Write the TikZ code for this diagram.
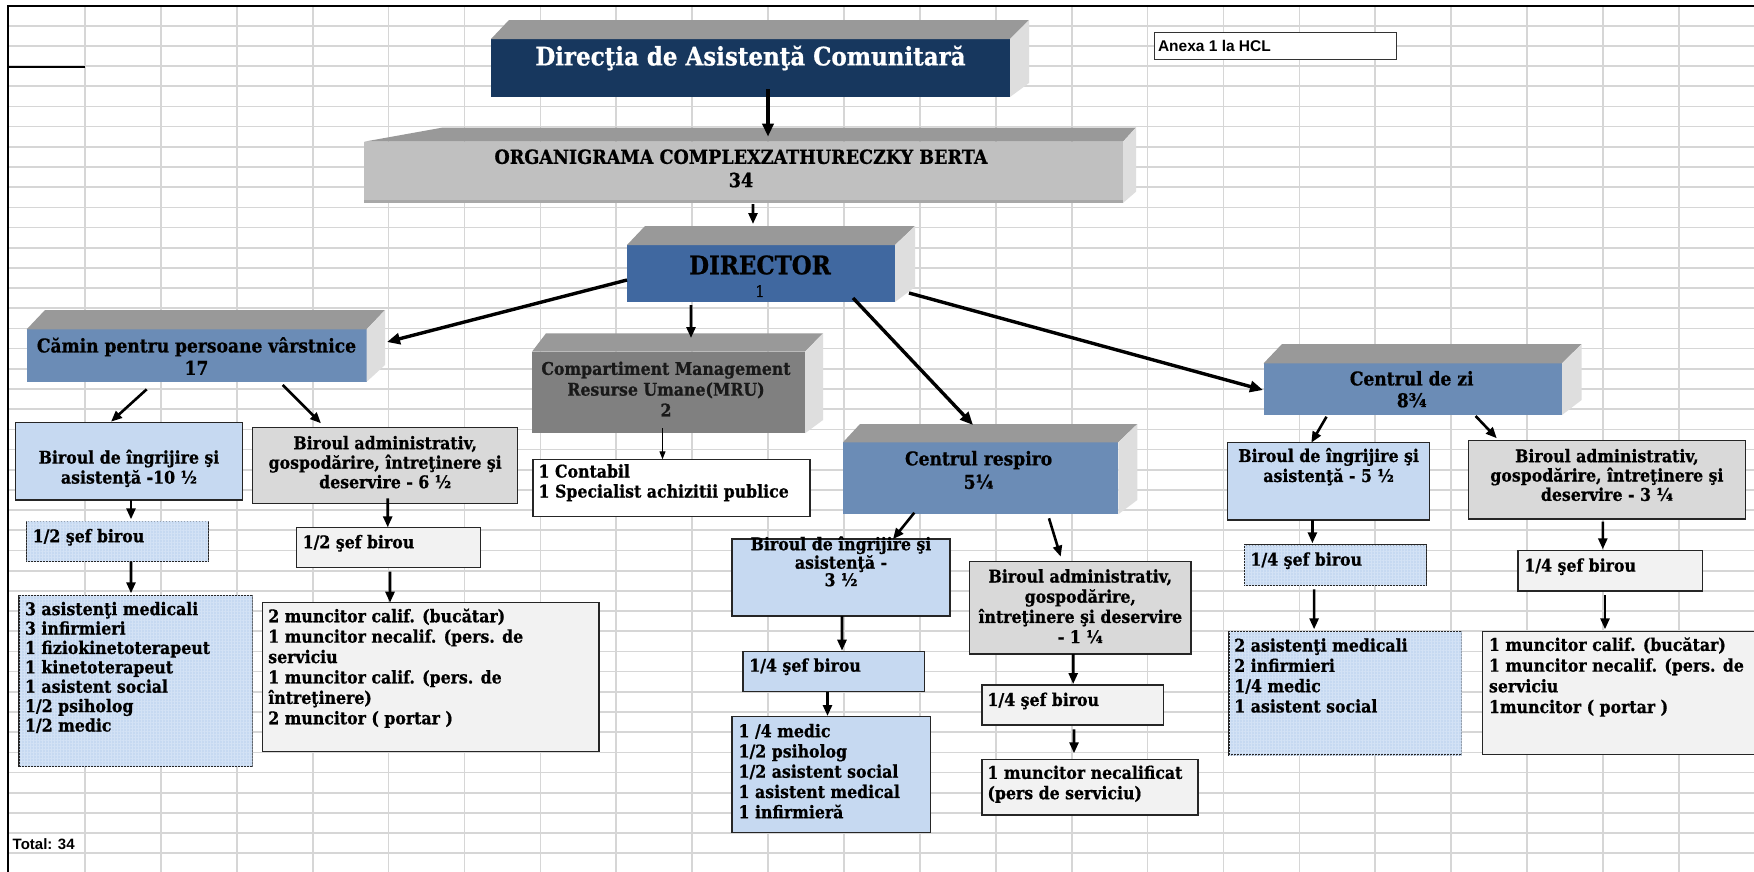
\documentclass[tikz,border=0pt]{standalone}
\usepackage{fontspec}
\newfontfamily\bk[FakeStretch=0.9,FakeBold=0.8]{DejaVu Serif}
\newfontfamily\arl{Liberation Sans}
\usetikzlibrary{arrows.meta,patterns.meta,fit,calc}
\definecolor{navy}{HTML}{17375E}
\definecolor{dirblue}{HTML}{4068A0}
\definecolor{steel}{HTML}{6B8CB6}
\definecolor{mrugray}{HTML}{808080}
\definecolor{orggray}{HTML}{C0C0C0}
\definecolor{topgray}{HTML}{999999}
\definecolor{sidegray}{HTML}{DEDEDE}
\definecolor{lblue}{HTML}{C6D9F1}
\definecolor{pattc}{HTML}{D3E2F5}
\definecolor{mgray}{HTML}{D9D9D9}
\definecolor{pgray}{HTML}{F2F2F2}
\definecolor{gridc}{HTML}{D6D6D6}
\definecolor{orgstrip}{HTML}{A8A8A8}
\newcommand\bfs[2]{\bk\bfseries\fontsize{#1bp}{#2bp}\selectfont}
\newcommand\tdbox[7]{%
  \node[tdf,fill=#2,fit={(#3) (#4)}] (#1) {};
  \fill[topgray] (#1.north west) -- (#5) -- (#6) -- (#1.north east) -- cycle;
  \fill[sidegray] (#1.north east) -- (#6) -- (#7) -- (#1.south east) -- cycle;
}
\begin{document}
\begin{tikzpicture}[x=1bp,y=-1bp,
  gridline/.style={draw=gridc,line width=1.7bp},
  frameline/.style={draw=black,line width=2.2bp},
  tdf/.style={inner sep=0pt,outer sep=0pt},
  bx/.style={draw=black!85,line width=1.3bp,inner sep=0pt,outer sep=0pt},
  patt/.style={postaction={pattern={Lines[angle=0,distance=3bp,line width=0.5bp]},pattern color=pattc},
               postaction={pattern={Lines[angle=90,distance=3bp,line width=0.5bp]},pattern color=pattc}},
  tx/.style={inner sep=0pt,outer sep=0pt,text=black},
  tl/.style={tx,align=left,anchor=west},
  tc/.style={tx,align=center,anchor=center},
  arr/.style={line width=2.6bp,-{Triangle[length=11bp,width=9bp]}},
  arrb/.style={line width=3.4bp,-{Triangle[length=13bp,width=11bp]}},
  arrt/.style={line width=1bp,-{Triangle[length=8bp,width=6bp]}}
]
\useasboundingbox (0,0) rectangle (1754,872);
\fill[white] (0,0) rectangle (1754,872);
% spreadsheet grid
\foreach \k in {0,...,21} \draw[gridline] ({85+75.9*\k},6) -- ({85+75.9*\k},872);
\foreach \k in {1,...,42} \draw[gridline] (8,{5.5+20.185*\k}) -- (1754,{5.5+20.185*\k});
\draw[frameline] (8,872) -- (8,6) -- (1754,6);
\draw[frameline] (8,67) -- (85,67);

% 3D boxes
\tdbox{D1}{navy}{491,39}{1010,97}{509,20}{1029,20}{1029,83}
\tdbox{D2}{orggray}{364,141.7}{1123,203}{443,127.5}{1136,127.5}{1136,191.7}
\fill[orgstrip] (D2.south west) rectangle ($(D2.south east)+(0,-3)$);
\tdbox{D3}{dirblue}{627,245}{895,302}{645,226}{915,226}{915,287}
\tdbox{D4}{steel}{26.7,329.3}{366.7,381.7}{45,310}{385,310}{385,365}
\tdbox{D5}{mrugray}{532,351.7}{805,433.3}{546,333.3}{823,333.3}{823,420}
\tdbox{D6}{steel}{843,442.3}{1118.3,514.3}{860,424}{1137.3,424}{1137.3,500}
\tdbox{D7}{steel}{1263.6,363.3}{1562,415}{1282,344}{1581.6,344}{1581.6,400}

\node[tc,text=white,font=\bfs{25.5}{27}] (D1t) at (750.5,58) {Direcţia de Asistenţă Comunitară};
\node[tc,font=\bfs{19.5}{23.3}] (D2t) at (741,168.4) {ORGANIGRAMA COMPLEXZATHURECZKY BERTA\\34};
\node[tc,font=\bfs{25.5}{27}] (D3t) at (760,265) {DIRECTOR};
\node[tc,font=\bk\fontsize{16bp}{18bp}\selectfont] (D3n) at (760,291) {1};
\node[tc,font=\bfs{19}{22.3}] (D4t) at (196.5,356) {Cămin pentru persoane vârstnice\\17};
\node[tc,text=black!90,font=\bfs{17.5}{20.8}] (D5t) at (666,389) {Compartiment Management\\Resurse Umane(MRU)\\2};
\node[tc,font=\bfs{19}{23.4}] (D6t) at (978.6,470) {Centrul respiro\\5¼};
\node[tc,font=\bfs{19}{21.7}] (D7t) at (1411.7,389.2) {Centrul de zi\\8¾};

% Camin branch
\node[bx,fill=lblue,fit={(15.7,422.7) (242.3,500)}] (B1) {};
\node[tc,font=\bfs{17.5}{20}] (B1t) at (129,468.3) {Biroul de îngrijire şi\\asistenţă -10 ½};
\node[bx,fill=mgray,fit={(252.7,427.7) (517.7,503.3)}] (B2) {};
\node[tc,font=\bfs{17.5}{19.5}] (B2t) at (385.2,462.2) {Biroul administrativ,\\gospodărire, întreţinere şi\\deservire - 6 ½};
\node[bx,fill=lblue,patt,fit={(26.7,521.7) (208.3,561.7)}] (B3) {};
\node[tl,font=\bfs{17.5}{20}] (B3t) at (32.7,537.3) {1/2 şef birou};
\node[bx,fill=pgray,fit={(296.7,527.3) (480.7,567.3)}] (B4) {};
\node[tl,font=\bfs{17.5}{20}] (B4t) at (302.7,543.3) {1/2 şef birou};
\node[bx,fill=lblue,patt,fit={(19,595.7) (252.3,766.7)}] (B5) {};
\node[tl,font=\bfs{17.5}{19.4}] (B5t) at (25,667.5) {3 asistenţi medicali\\3 infirmieri\\1 fiziokinetoterapeut\\1 kinetoterapeut\\1 asistent social\\1/2 psiholog\\1/2 medic};
\node[bx,fill=pgray,fit={(262.3,602.7) (599,751.7)}] (B6) {};
\node[tl,font=\bfs{17.5}{20.4}] (B6t) at (268.3,668.3) {2 muncitor calif. (bucătar)\\1 muncitor necalif. (pers. de\\serviciu\\1 muncitor calif. (pers. de\\întreţinere)\\2 muncitor ( portar )};

% MRU
\node[bx,fill=white,fit={(533,459.3) (810,516.7)}] (B7) {};
\node[tl,font=\bfs{17.5}{20}] (B7t) at (538.6,482.7) {1 Contabil\\1 Specialist achizitii publice};

% Centrul respiro branch
\node[bx,fill=lblue,fit={(732,539) (950,616)}] (B8) {};
\node[tc,font=\bfs{17.5}{14.7}] (B8t) at (841,561.3) {Biroul de îngrijire şi\\asistenţă -\\3 ½};
\node[bx,fill=mgray,fit={(969.6,561.7) (1191,654)}] (B9) {};
\node[tc,font=\bfs{17.5}{20.2}] (B9t) at (1080.3,606.3) {Biroul administrativ,\\gospodărire,\\întreţinere şi deservire\\- 1 ¼};
\node[bx,fill=lblue,fit={(742.9,651.7) (924.3,691.7)}] (B10) {};
\node[tl,font=\bfs{17.5}{20}] (B10t) at (749.3,666.7) {1/4 şef birou};
\node[bx,fill=pgray,fit={(982,685) (1163.6,725)}] (B11) {};
\node[tl,font=\bfs{17.5}{20}] (B11t) at (987.5,701) {1/4 şef birou};
\node[bx,fill=lblue,fit={(732,716.7) (930.4,832.7)}] (B12) {};
\node[tl,font=\bfs{17.5}{20.25}] (B12t) at (738.6,771.2) {1 /4 medic\\1/2 psiholog\\1/2 asistent social\\1 asistent medical\\1 infirmieră};
\node[bx,fill=pgray,fit={(982,759.3) (1198,815)}] (B13) {};
\node[tl,font=\bfs{17.5}{20.3}] (B13t) at (987.5,784.2) {1 muncitor necalificat\\(pers de serviciu)};

% Centrul de zi branch
\node[bx,fill=lblue,fit={(1227.6,442.7) (1429.7,520)}] (B14) {};
\node[tc,font=\bfs{17.5}{20}] (B14t) at (1328.6,466.7) {Biroul de îngrijire şi\\asistenţă - 5 ½};
\node[bx,fill=mgray,fit={(1468.6,440.7) (1745.2,519)}] (B15) {};
\node[tc,font=\bfs{17.5}{19.3}] (B15t) at (1606.9,475) {Biroul administrativ,\\gospodărire, întreţinere şi\\deservire - 3 ¼};
\node[bx,fill=lblue,patt,fit={(1244.2,545) (1426.1,585.7)}] (B16) {};
\node[tl,font=\bfs{17.5}{20}] (B16t) at (1250.5,560.7) {1/4 şef birou};
\node[bx,fill=pgray,fit={(1518,550.7) (1702.5,591)}] (B17) {};
\node[tl,font=\bfs{17.5}{20}] (B17t) at (1524.4,566.7) {1/4 şef birou};
\node[bx,fill=lblue,patt,fit={(1229,631.7) (1461.5,755)}] (B18) {};
\node[tl,font=\bfs{17.5}{20.3}] (B18t) at (1234.3,675.5) {2 asistenţi medicali\\2 infirmieri\\1/4 medic\\1 asistent social};
\node[bx,fill=pgray,fit={(1482.7,631.7) (1760,754.3)}] (B19) {};
\node[tl,font=\bfs{17.5}{20.7}] (B19t) at (1489,677) {1 muncitor calif. (bucătar)\\1 muncitor necalif. (pers. de\\serviciu\\1muncitor ( portar )};

% annex and total
\node[draw=black!80,line width=1bp,fill=white,inner sep=0pt,outer sep=0pt,fit={(1154,32.7) (1396,59)}] (AX) {};
\node[tl,font=\arl\bfseries\fontsize{15.5bp}{17bp}\selectfont] (AXt) at (1158,46) {Anexa 1 la HCL};
\node[tl,font=\arl\bfseries\fontsize{15bp}{17bp}\selectfont] (TOT) at (12.7,844) {Total: 34};

% connectors
\draw[arrb] ($(D1.south)+(17.5,-7.7)$) -- ($(D2.north)+(24.5,-5)$);
\draw[arr] ($(D2.south)+(9.5,1)$) -- ($(D3.north)+(-8,-21)$);
\draw[arrb] ($(D3.west)+(0,6.5)$) -- ($(D4.east)+(20.3,-13.5)$);
\draw[arr] ($(D3.south)+(-70,3)$) -- ($(D5.north)+(22.5,-13.7)$);
\draw[arrb] ($(D3.south)+(92,-4)$) -- ($(D6.north)+(-7.65,-17.3)$);
\draw[arrb] ($(D3.east)+(14,19.5)$) -- ($(D7.west)+(-0.6,0.85)$);
\draw[arr] ($(D4.south)+(-50,7.6)$) -- ($(B1.north)+(-18,-1)$);
\draw[arr] ($(D4.south)+(86,3.3)$) -- ($(B2.north)+(-64.2,-4.4)$);
\draw[arr] ($(B1.south)+(2,0)$) -- ($(B3.north)+(13.5,-2.4)$);
\draw[arr] ($(B2.south)+(2.5,-5)$) -- ($(B4.north)+(-1,0)$);
\draw[arr] ($(B3.south)+(13.5,0)$) -- ($(B5.north)+(-4.65,-2.4)$);
\draw[arr] ($(B4.south)+(1.3,4.4)$) -- ($(B6.north)+(-40.65,0)$);
\draw[arrt] ($(D5.south)+(-6,-5.3)$) -- ($(B7.north)+(-9,0)$);
\draw[arr] ($(D6.south)+(-66.35,-1.6)$) -- ($(B8.north)+(51.9,0.3)$);
\draw[arr] ($(D6.south)+(68.35,4)$) -- ($(B9.north)+(-19.6,-5)$);
\draw[arr] ($(B8.south)+(1,0)$) -- ($(B10.north)+(8.4,-1)$);
\draw[arr] ($(B9.south)+(-7.1,0)$) -- ($(B11.north)+(0.4,-1)$);
\draw[arr] ($(B10.south)+(-6.1,0)$) -- ($(B12.north)+(-3.7,-0.7)$);
\draw[arr] ($(B11.south)+(1.2,4.3)$) -- ($(B13.north)+(-16,-6)$);
\draw[arr] ($(D7.south)+(-86.3,1.7)$) -- ($(B14.north)+(-17.35,0)$);
\draw[arr] ($(D7.south)+(62.8,1)$) -- ($(B15.north)+(-110.1,-2.4)$);
\draw[arr] ($(B14.south)+(-16.25,0)$) -- ($(B16.north)+(-22.75,-1.7)$);
\draw[arr] ($(B15.south)+(-4.1,2.7)$) -- ($(B17.north)+(-7.45,-1.4)$);
\draw[arr] ($(B16.south)+(-21.05,3.6)$) -- ($(B18.north)+(-31.15,-2.4)$);
\draw[arr] ($(B17.south)+(-5.25,4)$) -- ($(B19.north)+(-16.35,-2.4)$);
\end{tikzpicture}
\end{document}
